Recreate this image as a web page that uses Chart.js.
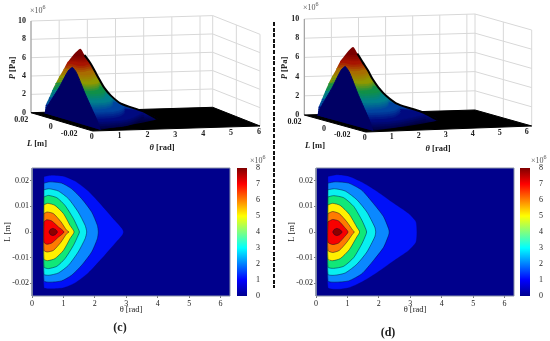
<!DOCTYPE html>
<html lang="en">
<head>
<meta charset="UTF-8" />
<title>Pressure distribution</title>
<script src="https://cdn.jsdelivr.net/npm/chart.js"></script>
<style>
  html, body { margin: 0; padding: 0; background: #fff; }
  body { position: relative; width: 550px; height: 341px; overflow: hidden; font-family: "Liberation Serif", serif; }
  canvas { position: absolute; }
  .txt { position: absolute; white-space: nowrap; color: #222; }
  .exp { font-size: 8px; color: #555; }
  .exp sup { font-size: 6px; line-height: 0; }
  .cap { font-size: 12px; font-weight: bold; transform: translateX(-50%); }
  #dash { position: absolute; left: 273px; top: 22px; width: 2px; height: 266px;
    background: repeating-linear-gradient(#111 0 4px, transparent 4px 5.6px); }
</style>
</head>
<body>
<canvas id="surfC" width="275" height="170" style="left:0;top:0"></canvas>
<canvas id="surfD" width="275" height="170" style="left:275px;top:0"></canvas>
<canvas id="mapC" width="235" height="170" style="left:0;top:160px"></canvas>
<canvas id="mapD" width="235" height="170" style="left:284px;top:160px"></canvas>
<canvas id="barC" width="30" height="150" style="left:237px;top:160px"></canvas>
<canvas id="barD" width="30" height="150" style="left:520px;top:160px"></canvas>
<div id="dash"></div>
<div class="txt exp" style="left:30px;top:6px">×10<sup>6</sup></div>
<div class="txt exp" style="left:303px;top:3px">×10<sup>6</sup></div>
<div class="txt exp" style="left:250px;top:156px">×10<sup>6</sup></div>
<div class="txt exp" style="left:531px;top:156px">×10<sup>6</sup></div>
<div class="txt cap" style="left:120px;top:320px">(c)</div>
<div class="txt cap" style="left:388px;top:325px">(d)</div>
<script>
// axis ticks
const thetaTicks = [0, 1, 2, 3, 4, 5, 6];
const lengthTicks = [-0.02, -0.01, 0, 0.01, 0.02];
const surfLengthTicks = [0.02, 0, -0.02];
const pressureTicks = [0, 2, 4, 6, 8, 10];
const colorTicks = [0, 1, 2, 3, 4, 5, 6, 7, 8];

// contour levels, in 1e6 Pa, and band colours (lowest band is the background)
const levels = [0.9, 1.8, 2.7, 3.6, 4.5, 5.4, 6.3, 7.2];
const peakPressure = 7.9;
const bandColors = ['#0010f8', '#0a88ff', '#08f0f0', '#10e878', '#fff000', '#ff7a00', '#f80000', '#8c0000'];
const shadeColors = ['#000a80', '#0044a0', '#00808c', '#109048', '#8f9800', '#a86c00', '#a81400', '#7a0000'];

// contours: [theta, L], upper half only
const ringC1 = [[0.38, 0.0217], [0.63, 0.0222], [1.0, 0.0218], [1.37, 0.0199], [1.79, 0.016], [2.22, 0.0104], [2.64, 0.0045], [2.87, 0.0013], [2.91, 0]];
const ringC2 = [[0.38, 0.0191], [0.57, 0.0196], [0.94, 0.0191], [1.26, 0.0169], [1.58, 0.013], [1.9, 0.0078], [2.08, 0.0026], [2.11, 0]];
const ringC3 = [[0.38, 0.0165], [0.54, 0.0169], [0.84, 0.016], [1.16, 0.013], [1.47, 0.0078], [1.69, 0.0026], [1.74, 0]];
const ringC4 = [[0.38, 0.0137], [0.52, 0.0143], [0.79, 0.0134], [1.05, 0.0104], [1.32, 0.0052], [1.47, 0.0013], [1.51, 0]];
const ringC5 = [[0.38, 0.0106], [0.5, 0.0112], [0.73, 0.0104], [1.0, 0.0072], [1.21, 0.0026], [1.34, 0]];
const ringC6 = [[0.38, 0.0072], [0.48, 0.0078], [0.68, 0.0072], [0.92, 0.004], [1.1, 0.0007], [1.18, 0]];
const ringC7 = [[0.38, 0.004], [0.47, 0.0048], [0.63, 0.0043], [0.84, 0.002], [1.02, 0]];
const ringC8 = [[0.54, 0], [0.58, 0.001], [0.66, 0.0014], [0.75, 0.001], [0.81, 0]];

// contours
const ringD1 = [[0.38, 0.0217], [0.67, 0.0224], [1.04, 0.0218], [1.46, 0.0195], [1.89, 0.0163], [2.42, 0.0117], [2.95, 0.0072], [3.18, 0.004], [3.21, 0]];
const ringD2 = [[0.38, 0.0191], [0.61, 0.0196], [1.04, 0.0191], [1.46, 0.0163], [1.83, 0.0111], [2.15, 0.006], [2.31, 0.0013], [2.33, 0]];
const ringD3 = [[0.38, 0.0165], [0.59, 0.0169], [0.93, 0.016], [1.3, 0.0126], [1.62, 0.0078], [1.87, 0.0019], [1.9, 0]];
const ringD4 = [[0.38, 0.0137], [0.56, 0.0142], [0.88, 0.0134], [1.2, 0.01], [1.46, 0.0046], [1.59, 0.001], [1.61, 0]];
const ringD5 = [[0.38, 0.0106], [0.53, 0.0112], [0.77, 0.0104], [1.06, 0.0069], [1.3, 0.0019], [1.39, 0]];
const ringD6 = [[0.38, 0.0072], [0.53, 0.008], [0.74, 0.0072], [0.98, 0.004], [1.17, 0.0007], [1.22, 0]];
const ringD7 = [[0.38, 0.004], [0.53, 0.0049], [0.72, 0.0043], [0.91, 0.0018], [1.02, 0]];
const ringD8 = [[0.53, 0], [0.58, 0.001], [0.66, 0.0014], [0.76, 0.001], [0.83, 0]];

// ridge of the surface at L = 0: theta and pressure
const ridgeThetaC = [0.38, 0.5, 0.65, 0.81, 1.02, 1.18, 1.34, 1.51, 1.75, 2.11, 2.88, 3.4];
const ridgeThetaD = [0.38, 0.5, 0.66, 0.83, 1.02, 1.22, 1.39, 1.61, 1.9, 2.33, 3.21, 3.8];
const ridgePressure = [5.9, 7.3, 7.9, 7.2, 6.3, 5.4, 4.5, 3.6, 2.7, 1.8, 0.9, 0];

// end face of the surface at theta = 0.38
const faceLength = [0.0225, 0.02, 0.015, 0.01, 0.006, 0.003, 0, -0.003, -0.006, -0.01, -0.015, -0.02, -0.0225];
const facePressure = [0, 0.9, 2.2, 3.5, 4.7, 5.5, 5.9, 5.5, 4.7, 3.5, 2.2, 0.9, 0];

const ringsC = [ringC1, ringC2, ringC3, ringC4, ringC5, ringC6, ringC7, ringC8];
const ringsD = [ringD1, ringD2, ringD3, ringD4, ringD5, ringD6, ringD7, ringD8];

Chart.defaults.font.family = '"Liberation Serif", serif';
Chart.defaults.color = '#222';

function closeRing(half) {
  const low = half.slice(0, -1).reverse().map(p => [p[0], -p[1]]);
  return half.concat(low, [half[0]]);
}

function polygon(pts, fillColor, lineColor, lineWidth, tension) {
  return {
    data: pts.map(p => ({ x: p[0], y: p[1] })),
    showLine: true, fill: fillColor ? 'shape' : false,
    backgroundColor: fillColor || 'transparent',
    borderColor: lineColor, borderWidth: lineWidth,
    pointRadius: 0, tension: tension || 0, clip: false
  };
}

function mixColor(a, b, f) {
  const ch = (h, i) => parseInt(h.substr(1 + i * 2, 2), 16);
  return 'rgb(' + [0, 1, 2].map(i => Math.round(ch(a, i) + (ch(b, i) - ch(a, i)) * f)).join(',') + ')';
}

function contourChart(id, rings) {
  const sets = [polygon([[0, -0.025], [6.3, -0.025], [6.3, 0.025], [0, 0.025], [0, -0.025]], '#00008c', '#8a93a8', 1)];
  rings.forEach((r, i) => sets.push(polygon(closeRing(r), bandColors[i], i ? 'rgba(0,0,50,0.65)' : 'rgba(0,0,120,0.4)', 0.7, 0.2)));
  new Chart(document.getElementById(id), {
    type: 'scatter',
    data: { datasets: sets.reverse() },
    options: {
      responsive: false, animation: false,
      layout: { padding: { top: 8, right: 5, left: 0, bottom: 0 } },
      plugins: { legend: { display: false }, tooltip: { enabled: false }, filler: { drawTime: 'beforeDatasetDraw' } },
      scales: {
        x: {
          min: 0, max: 6.3,
          afterBuildTicks: s => { s.ticks = thetaTicks.map(v => ({ value: v })); },
          afterFit: s => { s.height = 34; },
          grid: { drawOnChartArea: false, tickLength: 2, color: '#777' }, border: { display: false },
          ticks: { font: { size: 8 }, padding: 1, maxRotation: 0, callback: v => String(v) },
          title: { display: true, text: 'θ [rad]', font: { size: 8.5 }, padding: { top: 0, bottom: 15 } }
        },
        y: {
          min: -0.025, max: 0.025,
          afterBuildTicks: s => { s.ticks = lengthTicks.map(v => ({ value: v })); },
          afterFit: s => { s.width = 32; },
          grid: { drawOnChartArea: false, tickLength: 2, color: '#777' }, border: { display: false },
          ticks: { font: { size: 8 }, padding: 1, callback: v => String(v) },
          title: { display: true, text: 'L [m]', font: { size: 8.5 }, padding: { top: 3, bottom: 0 } }
        }
      }
    }
  });
}

function colorBar(id) {
  new Chart(document.getElementById(id), {
    type: 'bar',
    data: {
      labels: [''],
      datasets: [{
        data: [[colorTicks[0], colorTicks[colorTicks.length - 1]]],
        barPercentage: 1, categoryPercentage: 1,
        backgroundColor: c => {
          const a = c.chart.chartArea;
          if (!a) return '#00f';
          const g = c.chart.ctx.createLinearGradient(0, a.bottom, 0, a.top);
          [[0, '#00008f'], [0.125, '#0000ff'], [0.375, '#00ffff'], [0.625, '#ffff00'], [0.875, '#ff0000'], [1, '#800000']]
            .forEach(s => g.addColorStop(s[0], s[1]));
          return g;
        }
      }]
    },
    options: {
      responsive: false, animation: false,
      layout: { padding: { top: 8, bottom: 14, left: 0, right: 0 } },
      plugins: { legend: { display: false }, tooltip: { enabled: false } },
      scales: {
        x: { display: false },
        y: {
          position: 'right', min: 0, max: 8,
          afterBuildTicks: s => { s.ticks = colorTicks.map(v => ({ value: v })); },
          afterFit: s => { s.width = 20; },
          grid: { display: false }, border: { display: false },
          ticks: { font: { size: 8 }, padding: 1 }
        }
      }
    }
  });
}

function surfaceChart(id, view, rings, ridgeTheta) {
  // bilinear box view: corners of the floor, u along theta, v along L
  const pUV = (u, v, p) => {
    const bx = view.left[0] + (view.back[0] - view.left[0]) * u, by = view.left[1] + (view.back[1] - view.left[1]) * u;
    const fx = view.front[0] + (view.right[0] - view.front[0]) * u, fy = view.front[1] + (view.right[1] - view.front[1]) * u;
    return [bx + (fx - bx) * v, by + (fy - by) * v - p * view.unit];
  };
  const project = (t, l, p) => {
    const v = (0.025 - l) / 0.05;
    return pUV(t / (view.tBack + (view.tFront - view.tBack) * v), v, p);
  };
  const grid = '#d8d8d8';
  const sets = [];
  pressureTicks.forEach(p => {
    sets.push(polygon([pUV(0, 0, p), pUV(1, 0, p), pUV(1, 1, p)], null, grid, 1));
  });
  thetaTicks.forEach(t => sets.push(polygon([project(t, 0.025, 0), project(t, 0.025, 10)], null, grid, 1)));
  [0, 0.5, 1].forEach(v => sets.push(polygon([pUV(1, v, 0), pUV(1, v, 10)], null, grid, 1)));
  sets.push(polygon([pUV(0, 0, 0), pUV(0, 0, 10)], null, '#999', 1));
  // floor
  sets.push(polygon([pUV(0, 0, 0), pUV(1, 0, 0), pUV(1, 1, 0), pUV(0, 1, 0), pUV(0, 0, 0)], '#000', '#000', 1));

  // body below the ridge, shaded by height, fills the notches left by the stacked rings
  const ridge = ridgeTheta.map((t, i) => project(t, 0, ridgePressure[i]));
  const leftEdge = rings.slice(0, 7).map((r, i) => project(r[0][0], r[0][1], levels[i]));
  const body = [project(0.38, 0.0225, 0)].concat(leftEdge, ridge.slice(2), [project(0.38, -0.0225, 0)]);
  const floorY = project(0.65, 0, 0)[1];
  const shade = document.getElementById(id).getContext('2d').createLinearGradient(0, floorY, 0, floorY - peakPressure * view.unit);
  shade.addColorStop(0, '#000040');
  levels.forEach((l, i) => shade.addColorStop(l / peakPressure, shadeColors[i]));
  shade.addColorStop(1, shadeColors[7]);
  sets.push(polygon(body, shade, 'transparent', 0, 0.25));

  // each contour ring is stacked from the level below it up to its own level
  rings.forEach((r, i) => {
    const from = i ? levels[i - 1] : 0;
    const c0 = i ? shadeColors[i - 1] : '#000040';
    const steps = 4;
    for (let k = 1; k <= steps; k++) {
      const f = k / steps;
      const col = mixColor(c0, shadeColors[i], f);
      sets.push(polygon(closeRing(r).map(q => project(q[0], q[1], from + (levels[i] - from) * f)), col, col, 0.8, 0.2));
    }
  });
  sets.push(polygon(ridge.slice(3), null, '#000', 2, 0.3));
  sets.push(polygon(faceLength.map((l, i) => project(0.38, l, facePressure[i])), '#000064', '#000064', 1, 0.15));

  const labels = {
    id: 'boxLabels',
    afterDraw(chart) {
      const c = chart.ctx, sx = chart.scales.x, sy = chart.scales.y;
      const put = (pt, dx, dy) => [sx.getPixelForValue(pt[0]) + dx, sy.getPixelForValue(pt[1]) + dy];
      c.save();
      c.fillStyle = '#222';
      c.font = 'bold 8px "Liberation Serif", serif';
      c.textBaseline = 'middle';
      c.textAlign = 'right';
      pressureTicks.forEach(p => { const q = put(pUV(0, 0, p), -5, 0); c.fillText(String(p), q[0], q[1]); });
      surfLengthTicks.forEach(l => { const q = put(pUV(0, (0.025 - l) / 0.05, 0), -9, 5); c.fillText(String(l), q[0], q[1]); });
      c.textAlign = 'center';
      thetaTicks.forEach(t => { const q = put(project(t, -0.025, 0), -1, 6); c.fillText(String(t), q[0], q[1]); });
      const mixed = (sym, rest, x, y, rot) => {
        c.save();
        c.translate(x, y);
        c.rotate(rot);
        c.font = 'italic bold 8.5px "Liberation Serif", serif';
        const w1 = c.measureText(sym).width;
        c.font = 'bold 8.5px "Liberation Serif", serif';
        const w2 = c.measureText(rest).width;
        c.textAlign = 'left';
        c.fillText(rest, (w1 - w2) / 2, 0);
        c.font = 'italic bold 8.5px "Liberation Serif", serif';
        c.fillText(sym, -(w1 + w2) / 2, 0);
        c.restore();
      };
      mixed('L', ' [m]', view.lLabel[0], view.lLabel[1], 0);
      mixed('θ', ' [rad]', view.tLabel[0], view.tLabel[1], 0);
      mixed('P', ' [Pa]', view.pLabel[0], view.pLabel[1], -Math.PI / 2);
      c.restore();
    }
  };

  new Chart(document.getElementById(id), {
    type: 'scatter',
    data: { datasets: sets.reverse() },
    plugins: [labels],
    options: {
      responsive: false, animation: false,
      layout: { padding: 0 },
      plugins: { legend: { display: false }, tooltip: { enabled: false }, filler: { drawTime: 'beforeDatasetDraw' } },
      scales: {
        x: { display: false, min: 0, max: 275 },
        y: { display: false, min: 0, max: 170, reverse: true }
      }
    }
  });
}

surfaceChart('surfC', {
  left: [31, 112.7], back: [212.7, 107.3], right: [260, 126], front: [92.7, 131],
  unit: 9.17, tBack: 6.45, tFront: 6,
  lLabel: [37, 144], tLabel: [162, 148], pLabel: [13, 68]
}, ringsC, ridgeThetaC);
surfaceChart('surfD', {
  left: [29.3, 115], back: [200, 110], right: [256.7, 126], front: [90.7, 132],
  unit: 9.6, tBack: 6.3, tFront: 6.15,
  lLabel: [40, 146], tLabel: [163, 149], pLabel: [10, 68]
}, ringsD, ridgeThetaD);
contourChart('mapC', ringsC);
contourChart('mapD', ringsD);
colorBar('barC');
colorBar('barD');
</script>
</body>
</html>
